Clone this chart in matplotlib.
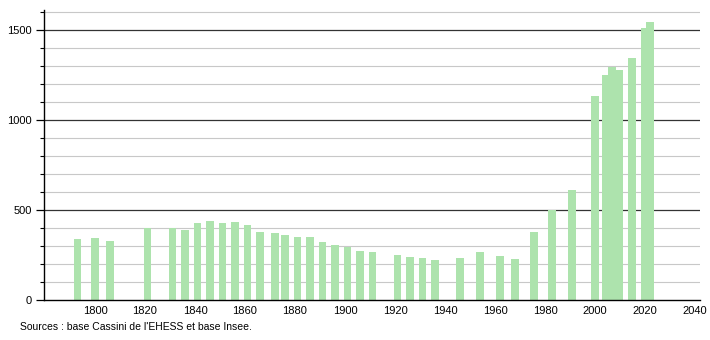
import numpy as np
import matplotlib
matplotlib.use('Agg')
import matplotlib.pyplot as plt
from matplotlib.ticker import MultipleLocator

# census years (as positioned in the chart) and population
years = [1793, 1800, 1806, 1821, 1831, 1836, 1841, 1846, 1851, 1856,
         1861, 1866, 1872, 1876, 1881, 1886, 1891, 1896, 1901, 1906,
         1911, 1921, 1926, 1931, 1936, 1946, 1954, 1962, 1968, 1975.6,
         1982.8, 1990.8, 2000, 2004.2, 2006.8, 2009.8, 2014.8, 2019.8, 2022]
population = [337, 344, 328, 400, 398, 389, 428, 439, 428, 433,
              418, 378, 373, 361, 348, 348, 320, 306, 296, 272,
              267, 250, 239, 233, 222, 233, 267, 244, 226, 378,
              500, 611, 1130, 1250, 1291, 1278, 1343, 1509, 1541]
x_ticks = [1800, 1820, 1840, 1860, 1880, 1900, 1920, 1940, 1960, 1980, 2000, 2020, 2040]
y_ticks = [0, 500, 1000, 1500]
source = "Sources : base Cassini de l'EHESS et base Insee."

plt.rcParams['font.family'] = ['Liberation Sans', 'DejaVu Sans']

fig = plt.figure(figsize=(7.1, 3.4), dpi=100)
ax = fig.add_axes([44/710, 40/340, 656/710, 290/340])

# grid lines: light every 100, dark every 500
for v in range(100, 1700, 100):
    if v % 500 == 0:
        ax.axhline(v, color='#333333', lw=0.9, zorder=1)
    else:
        ax.axhline(v, color='#c8c8c8', lw=0.8, zorder=1)

ax.bar(years, population, width=3.1, color='#ade3ad', zorder=2)

ax.set_xlim(1779.6, 2042)
ax.set_ylim(0, 1610)
ax.set_xticks(x_ticks)
ax.set_yticks(y_ticks)
ax.yaxis.set_minor_locator(MultipleLocator(100))
ax.tick_params(axis='x', length=0, labelsize=8, pad=4)
ax.tick_params(axis='y', which='major', length=6, width=0.9, labelsize=8, pad=3)
ax.tick_params(axis='y', which='minor', length=3, width=0.8)

for s in ['top', 'right']:
    ax.spines[s].set_visible(False)
ax.spines['left'].set_linewidth(1.0)
ax.spines['bottom'].set_linewidth(1.0)

fig.text(20/710, 1 - 327/340, source, fontsize=7.5, va='center', ha='left')

fig.savefig('out.png', dpi=100)
